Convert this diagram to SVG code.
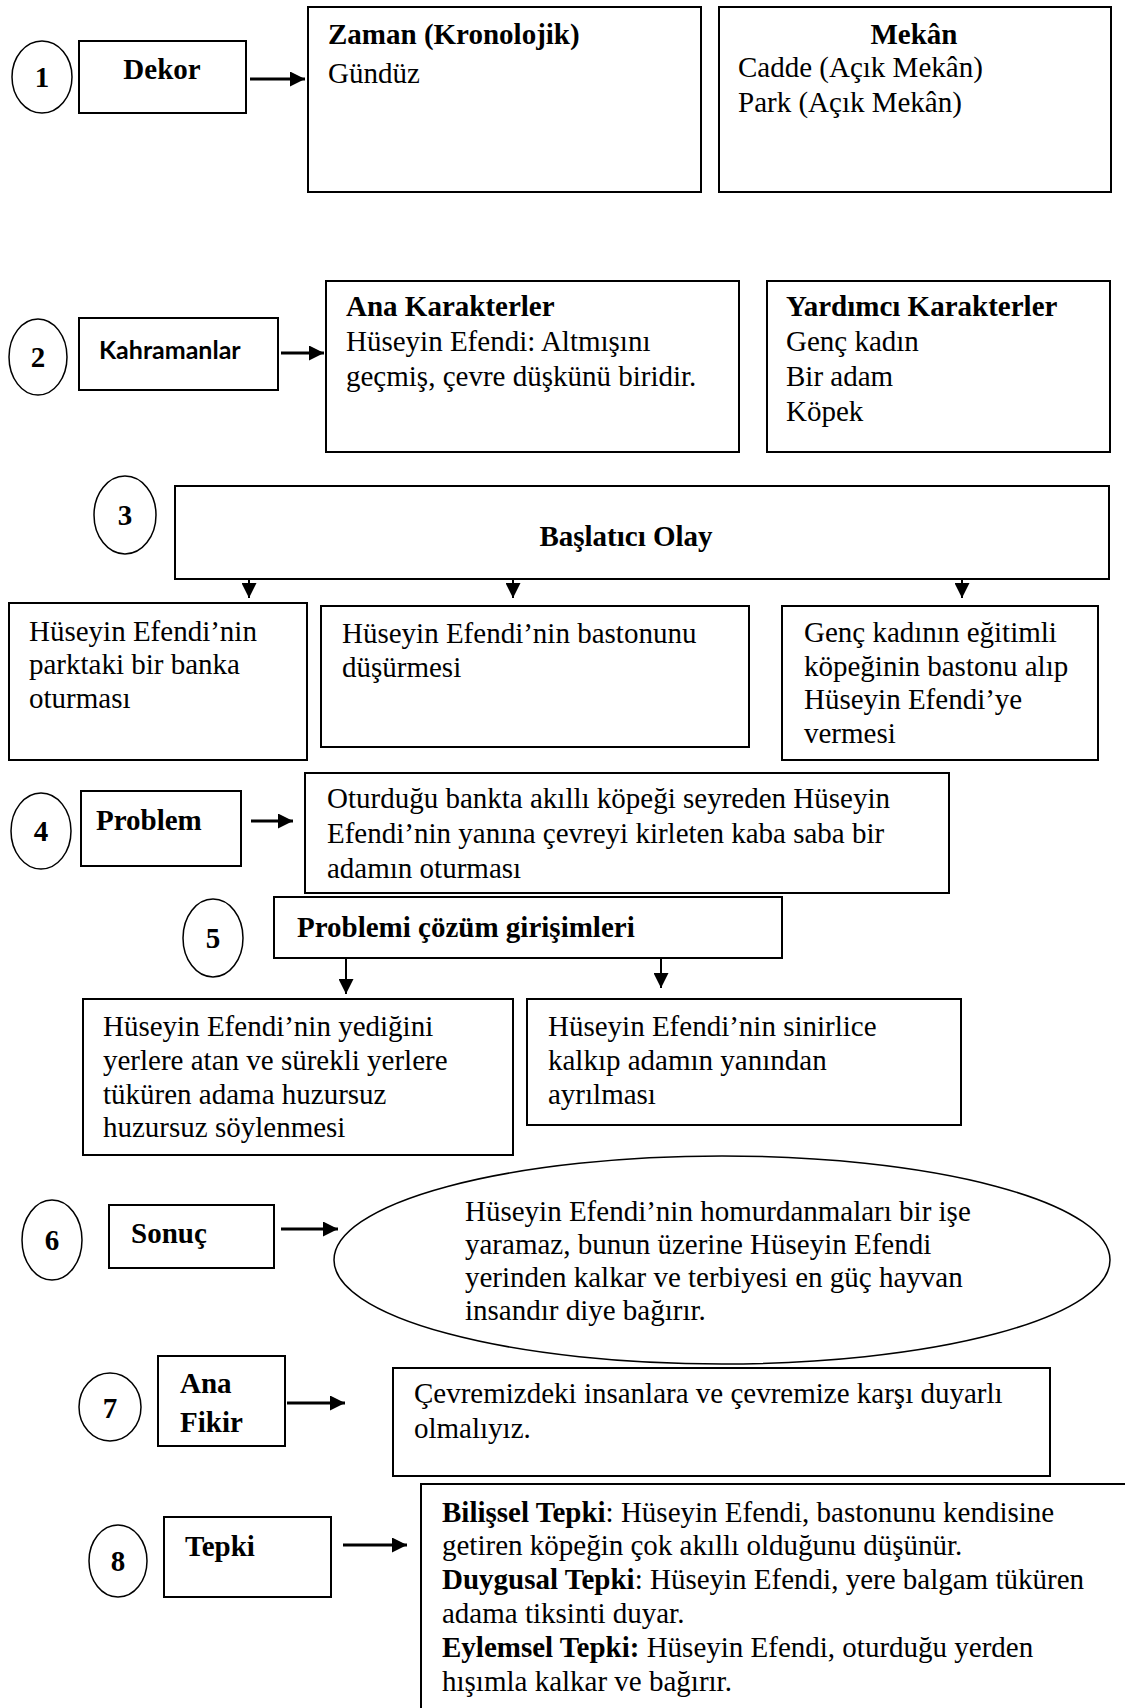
<svg xmlns="http://www.w3.org/2000/svg" width="1125" height="1708" viewBox="0 0 1125 1708">
<style>
text{font-family:"Liberation Serif","Times New Roman",serif;font-size:29px;fill:#000}
.b{font-weight:bold}
.c{text-anchor:middle}
.sans{font-family:"Lato","Liberation Sans",sans-serif;font-weight:bold;font-size:25px}
.box{fill:#fff;stroke:#000;stroke-width:2}
.ov{fill:#fff;stroke:#000;stroke-width:1.5}
.h{stroke:#000;fill:none;stroke-width:3}
.v{stroke:#000;fill:none;stroke-width:2}
</style>
<defs>
<marker id="ah" markerWidth="15" markerHeight="15" refX="15" refY="7.5" orient="auto" markerUnits="userSpaceOnUse">
<path d="M0,0 L15,7.5 L0,15 Z" fill="#000"/>
</marker>
</defs>

<g id="connectors">
<line class="h" x1="250" y1="79" x2="305" y2="79" marker-end="url(#ah)"/>
<line class="h" x1="281" y1="353" x2="324" y2="353" marker-end="url(#ah)"/>
<line class="v" x1="249" y1="560" x2="249" y2="598" marker-end="url(#ah)"/>
<line class="v" x1="513" y1="560" x2="513" y2="598" marker-end="url(#ah)"/>
<line class="v" x1="962" y1="560" x2="962" y2="598" marker-end="url(#ah)"/>
<line class="h" x1="251" y1="821" x2="293" y2="821" marker-end="url(#ah)"/>
<line class="v" x1="346" y1="958" x2="346" y2="994" marker-end="url(#ah)"/>
<line class="v" x1="661" y1="950" x2="661" y2="988" marker-end="url(#ah)"/>
<line class="h" x1="281" y1="1229" x2="338" y2="1229" marker-end="url(#ah)"/>
<line class="h" x1="287" y1="1403" x2="345" y2="1403" marker-end="url(#ah)"/>
<line class="h" x1="343" y1="1545" x2="407" y2="1545" marker-end="url(#ah)"/>
</g>

<g id="n1-circle"><ellipse class="ov" cx="42" cy="77" rx="30" ry="36"/><text class="b c" x="42" y="87">1</text></g>
<g id="n1-dekor"><rect class="box" x="79" y="41" width="167" height="72"/><text class="b c" x="162" y="79">Dekor</text></g>
<g id="n1-zaman"><rect class="box" x="308" y="7" width="393" height="185"/>
<text class="b" x="328" y="44">Zaman (Kronolojik)</text>
<text x="328" y="83">Gündüz</text></g>
<g id="n1-mekan"><rect class="box" x="719" y="7" width="392" height="185"/>
<text class="b c" x="914" y="44">Mekân</text>
<text x="738" y="77">Cadde (Açık Mekân)</text>
<text x="738" y="112">Park (Açık Mekân)</text></g>

<g id="n2-circle"><ellipse class="ov" cx="38" cy="357" rx="29" ry="38"/><text class="b c" x="38" y="367">2</text></g>
<g id="n2-kahraman"><rect class="box" x="79" y="318" width="199" height="72"/><text class="sans" x="99" y="359">Kahramanlar</text></g>
<g id="n2-ana"><rect class="box" x="326" y="281" width="413" height="171"/>
<text class="b" x="346" y="316">Ana Karakterler</text>
<text x="346" y="351">Hüseyin Efendi: Altmışını</text>
<text x="346" y="386">geçmiş, çevre düşkünü biridir.</text></g>
<g id="n2-yardimci"><rect class="box" x="767" y="281" width="343" height="171"/>
<text class="b" x="786" y="316">Yardımcı Karakterler</text>
<text x="786" y="351">Genç kadın</text>
<text x="786" y="386">Bir adam</text>
<text x="786" y="421">Köpek</text></g>

<g id="n3-circle"><ellipse class="ov" cx="125" cy="515" rx="31" ry="39"/><text class="b c" x="125" y="525">3</text></g>
<g id="n3-baslatici"><rect class="box" x="175" y="486" width="934" height="93"/><text class="b c" x="626" y="546">Başlatıcı Olay</text></g>
<g id="n3a"><rect class="box" x="9" y="603" width="298" height="157"/>
<text x="29" y="641">Hüseyin Efendi’nin</text>
<text x="29" y="674">parktaki bir banka</text>
<text x="29" y="708">oturması</text></g>
<g id="n3b"><rect class="box" x="321" y="606" width="428" height="141"/>
<text x="342" y="643">Hüseyin Efendi’nin bastonunu</text>
<text x="342" y="677">düşürmesi</text></g>
<g id="n3c"><rect class="box" x="782" y="606" width="316" height="154"/>
<text x="804" y="642">Genç kadının eğitimli</text>
<text x="804" y="676">köpeğinin bastonu alıp</text>
<text x="804" y="709">Hüseyin Efendi’ye</text>
<text x="804" y="743">vermesi</text></g>

<g id="n4-circle"><ellipse class="ov" cx="41" cy="831" rx="30" ry="38"/><text class="b c" x="41" y="841">4</text></g>
<g id="n4-problem"><rect class="box" x="81" y="791" width="160" height="75"/><text class="b" x="96" y="830">Problem</text></g>
<g id="n4-text"><rect class="box" x="305" y="773" width="644" height="120"/>
<text x="327" y="808">Oturduğu bankta akıllı köpeği seyreden Hüseyin</text>
<text x="327" y="843">Efendi’nin yanına çevreyi kirleten kaba saba bir</text>
<text x="327" y="878">adamın oturması</text></g>

<g id="n5-circle"><ellipse class="ov" cx="213" cy="938" rx="30" ry="39"/><text class="b c" x="213" y="948">5</text></g>
<g id="n5-cozum"><rect class="box" x="274" y="897" width="508" height="61"/><text class="b" x="297" y="937">Problemi çözüm girişimleri</text></g>
<g id="n5a"><rect class="box" x="83" y="999" width="430" height="156"/>
<text x="103" y="1036">Hüseyin Efendi’nin yediğini</text>
<text x="103" y="1070">yerlere atan ve sürekli yerlere</text>
<text x="103" y="1104">tüküren adama huzursuz</text>
<text x="103" y="1137">huzursuz söylenmesi</text></g>
<g id="n5b"><rect class="box" x="527" y="999" width="434" height="126"/>
<text x="548" y="1036">Hüseyin Efendi’nin sinirlice</text>
<text x="548" y="1070">kalkıp adamın yanından</text>
<text x="548" y="1104">ayrılması</text></g>

<g id="n6-circle"><ellipse class="ov" cx="52" cy="1240" rx="30" ry="40"/><text class="b c" x="52" y="1250">6</text></g>
<g id="n6-sonuc"><rect class="box" x="109" y="1205" width="165" height="63"/><text class="b" x="131" y="1243">Sonuç</text></g>
<g id="n6-text"><ellipse class="ov" cx="722" cy="1260" rx="388" ry="104"/>
<text x="465" y="1221">Hüseyin Efendi’nin homurdanmaları bir işe</text>
<text x="465" y="1254">yaramaz, bunun üzerine Hüseyin Efendi</text>
<text x="465" y="1287">yerinden kalkar ve terbiyesi en güç hayvan</text>
<text x="465" y="1320">insandır diye bağırır.</text></g>

<g id="n7-circle"><ellipse class="ov" cx="110" cy="1407" rx="31" ry="34"/><text class="b c" x="110" y="1418">7</text></g>
<g id="n7-anafikir"><rect class="box" x="158" y="1356" width="127" height="90"/>
<text class="b" x="180" y="1393">Ana</text>
<text class="b" x="180" y="1432">Fikir</text></g>
<g id="n7-text"><rect class="box" x="393" y="1368" width="657" height="108"/>
<text x="414" y="1403">Çevremizdeki insanlara ve çevremize karşı duyarlı</text>
<text x="414" y="1438">olmalıyız.</text></g>

<g id="n8-circle"><ellipse class="ov" cx="118" cy="1561" rx="29" ry="36"/><text class="b c" x="118" y="1571">8</text></g>
<g id="n8-tepki"><rect class="box" x="164" y="1517" width="167" height="80"/><text class="b" x="185" y="1556">Tepki</text></g>
<g id="n8-text"><rect class="box" x="421" y="1484" width="720" height="240"/>
<text x="442" y="1522"><tspan class="b">Bilişsel Tepki</tspan>: Hüseyin Efendi, bastonunu kendisine</text>
<text x="442" y="1555">getiren köpeğin çok akıllı olduğunu düşünür.</text>
<text x="442" y="1589"><tspan class="b">Duygusal Tepki</tspan>: Hüseyin Efendi, yere balgam tüküren</text>
<text x="442" y="1623">adama tiksinti duyar.</text>
<text x="442" y="1657"><tspan class="b">Eylemsel Tepki:</tspan> Hüseyin Efendi, oturduğu yerden</text>
<text x="442" y="1691">hışımla kalkar ve bağırır.</text></g>
</svg>
